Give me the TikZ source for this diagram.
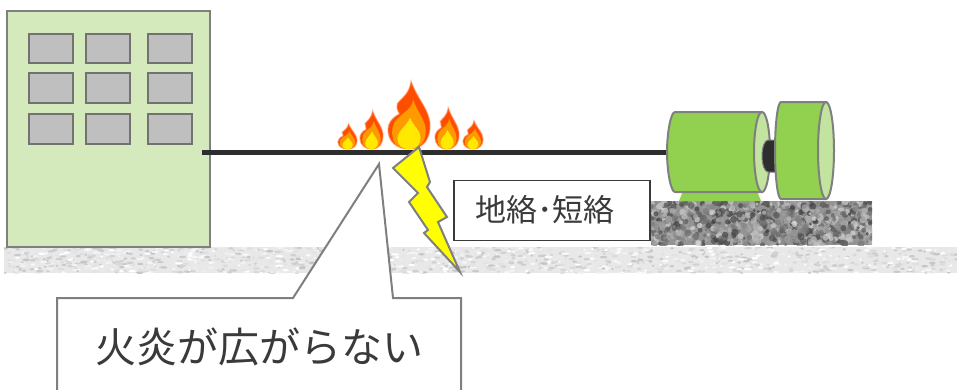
\documentclass[tikz,border=0pt]{standalone}
\usepackage{fontspec}
\newfontfamily\jpfont{Noto Sans CJK JP}
\definecolor{edgegray}{HTML}{7F7F7F}
\definecolor{wallgreen}{HTML}{D5EABC}
\definecolor{wingray}{HTML}{BFBFBF}
\definecolor{cablegray}{HTML}{2E2E2E}
\definecolor{motorgreen}{HTML}{92D050}
\definecolor{facegreen}{HTML}{C3E3A0}
\definecolor{flameRed}{HTML}{FF4D00}
\definecolor{flameOrange}{HTML}{FF9900}
\definecolor{flameYellow}{HTML}{FFE900}
\definecolor{boltyellow}{HTML}{FFFF00}
\definecolor{textgray}{HTML}{3A3A3A}
\tikzset{
  building/.style={draw=edgegray, line width=2.5pt, fill=wallgreen},
  window/.style={draw=edgegray!90!black, line width=2.5pt, fill=wingray},
  cable/.style={draw=cablegray, line width=5pt},
  motorbody/.style={draw=edgegray, line width=2pt, fill=motorgreen},
  motorface/.style={draw=edgegray, line width=2pt, fill=facegreen},
  bolt/.style={draw=edgegray, line width=2pt, fill=boltyellow, line join=miter},
  callout/.style={draw=edgegray, line width=2pt, fill=white, line join=miter},
  labelbox/.style={draw=textgray, line width=1.6pt, fill=white, inner sep=0pt,
    minimum width=196pt, minimum height=60pt},
  flame/.pic={
    \fill[flameRed, draw=flameRed!70, draw opacity=.45, line width=1.5pt]
      (0,0) .. controls (0.7,0) and (1,-0.4) .. (1,-0.9)
      .. controls (1,-1.5) and (0.4,-1.9) .. (0.1,-2.6)
      .. controls (0,-2.1) and (-0.3,-2.0) .. (-0.55,-1.75)
      .. controls (-0.58,-1.55) .. (-0.45,-1.35)
      .. controls (-0.8,-1.2) and (-1,-1.0) .. (-1,-0.75)
      .. controls (-1,-0.3) and (-0.6,0) .. (0,0) -- cycle;
    \fill[flameOrange]
      (0,0) .. controls (0.55,0) and (0.8,-0.3) .. (0.8,-0.7)
      .. controls (0.8,-1.1) and (0.4,-1.4) .. (0.2,-1.9)
      .. controls (0.1,-1.5) and (-0.3,-1.4) .. (-0.5,-1.2)
      .. controls (-0.8,-1.0) and (-0.8,-0.8) .. (-0.8,-0.6)
      .. controls (-0.8,-0.2) and (-0.5,0) .. (0,0) -- cycle;
    \fill[flameYellow]
      (0,0) .. controls (0.4,0) and (0.55,-0.2) .. (0.55,-0.45)
      .. controls (0.55,-0.7) and (0.2,-0.9) .. (0.05,-1.2)
      .. controls (-0.1,-0.9) and (-0.55,-0.7) .. (-0.55,-0.4)
      .. controls (-0.55,-0.15) and (-0.35,0) .. (0,0) -- cycle;
  }
}
\begin{document}
\begin{tikzpicture}[x=1pt, y=-1pt]
\useasboundingbox (0,0) rectangle (957,389);
\clip (0,0) rectangle (957,389);

% ground strip with a light stone texture
\begin{scope}
  \clip (4,247) rectangle (957,273);
  \fill[black!9] (4,247) rectangle (957,273);
  \pgfmathsetseed{11}
  \foreach \i in {1,...,1400}{
    \pgfmathsetmacro\px{4+953*rnd}
    \pgfmathsetmacro\py{247+26*rnd}
    \pgfmathtruncatemacro\g{24*rnd}
    \pgfmathsetmacro\rx{1+3*rnd}
    \fill[black!\g] (\px,\py) ellipse [x radius=\rx, y radius=1.2];
  }
\end{scope}

% concrete base under the motor
\begin{scope}
  \clip (651,201) rectangle (872,245);
  \fill[black!42] (651,201) rectangle (872,245);
  \pgfmathsetseed{5}
  \foreach \i in {1,...,900}{
    \pgfmathsetmacro\px{651+221*rnd}
    \pgfmathsetmacro\py{201+44*rnd}
    \pgfmathtruncatemacro\g{15+62*rnd}
    \pgfmathsetmacro\rr{1.5+2.2*rnd}
    \fill[black!\g, opacity=.7] (\px,\py) circle [radius=\rr];
  }
\end{scope}

% building
\node[building, minimum width=203pt, minimum height=236pt, inner sep=0pt]
  (bldg) at (108.5,129) {};
\foreach \xa/\xb in {29/73, 86/130, 148/192}
  \foreach \ya/\yb in {34/63, 73/103, 114/144}
    \draw[window] (\xa,\ya) rectangle (\xb,\yb);

% flames on the cable
\pic[xscale=9.5, yscale=9.6] at (347.5,149) {flame};
\pic[xscale=11.5, yscale=14.6] at (371.5,149) {flame};
\pic[xscale=21, yscale=26] at (409,149) {flame};
\pic[xscale=12, yscale=15.8] at (447,149) {flame};
\pic[xscale=10, yscale=10.8] at (473,149) {flame};

% motor feet
\fill[motorgreen] (683,191) -- (757,191) -- (761,201) -- (679,201) -- cycle;

% cable from the building to the motor
\coordinate (cableA) at (202,152);
\coordinate (motorL) at (668,152);
\draw[cable] (cableA) -- (motorL);

% motor body and end face
\draw[motorbody] (762,112) -- (675,112)
  .. controls (670.58,112) and (667,134.09) .. (667,152)
  .. controls (667,169.91) and (670.58,192) .. (675,192) -- (762,192) -- cycle;
\draw[motorface] (762,152) ellipse [x radius=8, y radius=40];

% shaft
\draw[fill=cablegray, draw=edgegray, line width=1pt] (778,140) -- (768,140)
  .. controls (764.7,140) and (762,147.2) .. (762,156)
  .. controls (762,164.8) and (764.7,172) .. (768,172) -- (778,172) -- cycle;

% coupled load
\draw[motorbody] (826,102) -- (781,102)
  .. controls (777.69,102) and (775,123.71) .. (775,150.5)
  .. controls (775,177.29) and (777.69,199) .. (781,199) -- (826,199) -- cycle;
\draw[motorface] (826,150.5) ellipse [x radius=8, y radius=48.5];

% lightning bolt
\draw[bolt] (419,147) -- (430,182) -- (427,187) -- (447,217) -- (438,222)
  -- (460,272) -- (424,233) -- (428,230) -- (409,202) -- (418,193)
  -- (393,168) -- cycle;

% fault label
\node[labelbox] (lbl) at (552,210.5) {};
\node[text=textgray, font=\jpfont\fontsize{31}{36}\selectfont, inner sep=0pt]
  (lbltext) at (545,210) {地絡･短絡};

% callout
\coordinate (tip) at (379,164);
\draw[callout] (57,298) -- (293,298) -- (tip) -- (393,298) -- (461,298)
  -- (461,400) -- (57,400) -- cycle;
\node[text=textgray, font=\jpfont\fontsize{41}{48}\selectfont, inner sep=0pt]
  (msg) at (259,347) {火炎が広がらない};
\end{tikzpicture}
\end{document}
